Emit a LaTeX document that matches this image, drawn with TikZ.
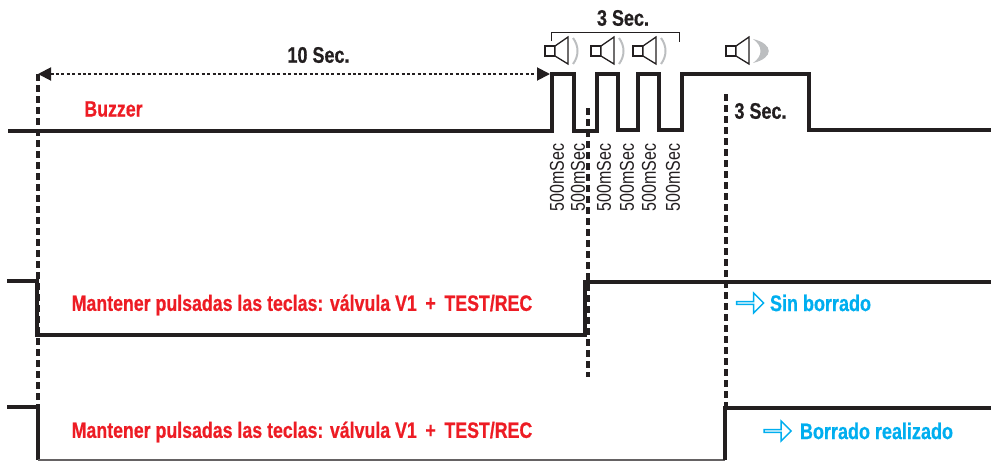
\documentclass[tikz,border=0pt]{standalone}
\usepackage{fontspec}
\usetikzlibrary{arrows.meta, shapes.arrows}
\setmainfont{Liberation Sans}[FakeStretch=0.8, BoldFeatures={FakeBold=0.6}]
\definecolor{cSig}{HTML}{231F20}
\definecolor{cRed}{HTML}{ED1C24}
\definecolor{cBlue}{HTML}{00AEEF}
\definecolor{cWave}{HTML}{BCBEC0}
\tikzset{
    sigline/.style={line width=3.2pt, draw=cSig, line join=miter},
    timeline/.style={line width=3.4pt, draw=cSig, dash pattern=on 7pt off 4pt},
    spanline/.style={line width=1.9pt, draw=cSig, dash pattern=on 3pt off 2.4pt},
    redlabel/.style={text=cRed, font=\fontsize{22.2}{22.2}\selectfont\bfseries, inner sep=0pt},
    bluelabel/.style={text=cBlue, font=\fontsize{22.5}{22.5}\selectfont\bfseries, inner sep=0pt},
    seclabel/.style={text=cSig, font=\fontsize{22.5}{22.5}\selectfont\bfseries, inner sep=0pt},
    pulselabel/.style={text=cSig, font=\fontsize{20}{20}\selectfont, rotate=90, inner sep=0pt},
    hollowarrow/.style={single arrow, draw=cBlue, fill=white, line width=1.4pt, minimum width=20pt,
        minimum height=27pt, single arrow head extend=4.5pt, single arrow head indent=0pt, inner sep=0pt},
    speaker/.pic={
        \draw[line width=1.3pt, draw=cSig, fill=white] (0,0) rectangle (10,10);
        \draw[line width=1.3pt, draw=cSig, fill=white] (10,0) -- (23,-9) -- (23,18) -- (10,10) -- cycle;
    }
}
\begin{document}
\begin{tikzpicture}[x=1pt, y=-1pt]
    \useasboundingbox (0,0) rectangle (991,461);
    % time marks
    \coordinate (startT) at (38,74);
    \coordinate (startB) at (38,407);
    \coordinate (endT) at (550,74);
    \coordinate (midT) at (588,108);
    \coordinate (midB) at (588,377);
    \coordinate (holdT) at (726,94);
    \coordinate (holdB) at (726,408);
    % signals
    \draw[sigline] (8,131) -- (552,131) -- (552,74) -- (574,74) -- (574,131) -- (597,131)
        -- (597,74) -- (618,74) -- (618,130) -- (638,130) -- (638,74) -- (659,74)
        -- (659,130) -- (682,130) -- (682,74) -- (809,74) -- (809,130) -- (991,130);
    \draw[sigline] (7,281) -- (37,281) -- (37,335) -- (585,335) -- (585,282) -- (991,282);
    \draw[sigline] (7,407) -- (38,407) -- (38,460);
    \draw[line width=1.5pt, draw=cSig!70] (38,460) -- (725,460);
    \draw[sigline] (725,460) -- (725,408) -- (991,408);
    % dashed marks
    \draw[timeline] (startT) -- (startB);
    \draw[timeline] (midT) -- (midB);
    \draw[timeline] (holdT) -- (holdB);
    \draw[spanline, {Triangle[length=13pt, width=13pt]}-{Triangle[length=13pt, width=13pt]}] (startT) -- (endT);
    % speakers
    \foreach \xpos in {545, 591, 633}{
      \pic at (\xpos,46) {speaker};
      \draw[line width=2pt, draw=cWave] (\xpos+28,38) .. controls (\xpos+34,46) and (\xpos+34,56) .. (\xpos+28,64);
    }
    \pic at (726,46) {speaker};
    \fill[cWave] (753,39) .. controls (774,44) and (774,58) .. (753,63) .. controls (763,56) and (763,46) .. (753,39) -- cycle;
    % bracket
    \draw[line width=1pt, draw=cSig] (551,41) -- (551,32) -- (679,32) -- (679,42);
    % labels
    \node[seclabel] (secA) at (623,18) {3 Sec.};
    \node[seclabel] (secB) at (318.5,55) {10 Sec.};
    \node[seclabel] (secC) at (760.5,111) {3 Sec.};
    \node[redlabel] (buzzer) at (113.5,109) {Buzzer};
    \node[redlabel] (keysA) at (302,305) {Mantener pulsadas las teclas: válvula V1 \,+\, TEST/REC};
    \node[redlabel] (keysB) at (302,432) {Mantener pulsadas las teclas: válvula V1 \,+\, TEST/REC};
    \node[bluelabel] (noErase) at (820.5,303) {Sin borrado};
    \node[bluelabel] (erased) at (876.5,431) {Borrado realizado};
    \node[hollowarrow] (arrowA) at (749.5,303) {};
    \node[hollowarrow] (arrowB) at (777,431) {};
    \foreach \xpos in {557, 578, 604, 627, 649, 673}{
      \node[pulselabel] at (\xpos,177.5) {500mSec};
    }
\end{tikzpicture}
\end{document}
